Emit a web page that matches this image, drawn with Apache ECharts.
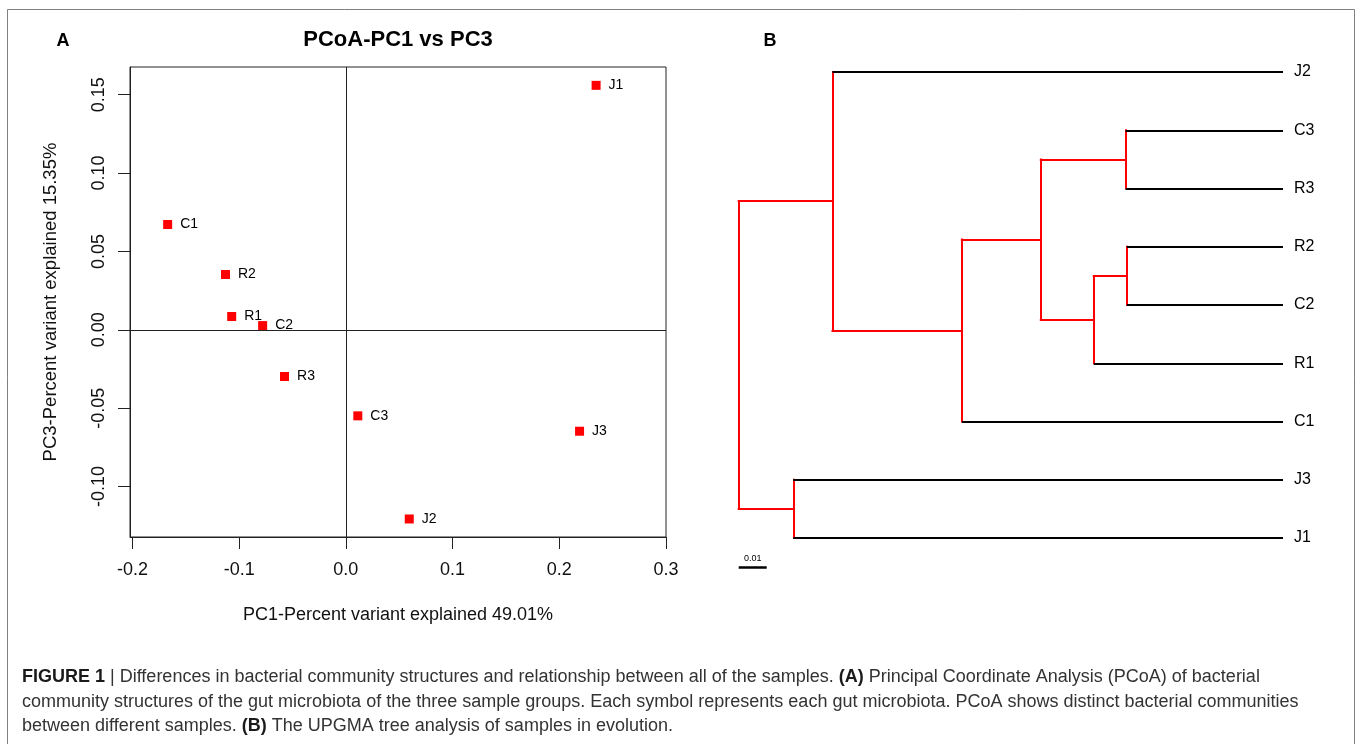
<!DOCTYPE html>
<html>
<head>
<meta charset="utf-8">
<script src="https://cdn.jsdelivr.net/npm/echarts@6.0.0/dist/echarts.min.js"></script>
<style>
  html, body { margin: 0; padding: 0; background: #fff; }
  #main { width: 1358px; height: 744px; }
</style>
</head>
<body>
<div id="main"></div>
<script>
// ---- panel A: PCoA scores ----
const sampleNames = ['J1', 'C1', 'R2', 'R1', 'C2', 'R3', 'C3', 'J3', 'J2'];
const pc1Values = [0.2345, -0.167, -0.1128, -0.107, -0.078, -0.0575, 0.0112, 0.219, 0.0594];
const pc3Values = [0.156, 0.0672, 0.0353, 0.0085, 0.0027, -0.0298, -0.0549, -0.0647, -0.1207];
const xTicks = [-0.2, -0.1, 0.0, 0.1, 0.2, 0.3];
const yTicks = [-0.10, -0.05, 0.00, 0.05, 0.10, 0.15];

// ---- panel B: UPGMA tree ----
const leafOrder = ['J2', 'C3', 'R3', 'R2', 'C2', 'R1', 'C1', 'J3', 'J1'];
const nodeNames = ['n1', 'n2', 'n3', 'n4', 'n5', 'n6', 'n7', 'n8'];
const nodeLeft = ['C3', 'R2', 'n2', 'n1', 'n4', 'J2', 'J3', 'n6'];
const nodeRight = ['R3', 'C2', 'R1', 'n3', 'C1', 'n5', 'J1', 'n7'];
const nodeHeight = [0.0562, 0.0558, 0.0676, 0.0865, 0.1147, 0.1609, 0.1749, 0.1944];
const scaleBar = 0.01;

const FONT = 'Liberation Sans, Arial, sans-serif';

// positions of leaves and merged nodes
const pos = {};
leafOrder.forEach((n, i) => { pos[n] = { h: 0, y: i }; });
const redSegs = [];
const blackSegs = [];
nodeNames.forEach((n, i) => {
  const l = pos[nodeLeft[i]], r = pos[nodeRight[i]];
  const h = nodeHeight[i];
  pos[n] = { h: h, y: (l.y + r.y) / 2 };
  redSegs.push({ coords: [[h, l.y], [h, r.y]] });
  [nodeLeft[i], nodeRight[i]].forEach(c => {
    const seg = { coords: [[h, pos[c].y], [pos[c].h, pos[c].y]] };
    if (leafOrder.indexOf(c) >= 0) blackSegs.push(seg); else redSegs.push(seg);
  });
});
const rootH = nodeHeight[nodeHeight.length - 1];

const chart = echarts.init(document.getElementById('main'), null, { renderer: 'canvas' });

const captionRich = { b: { fontWeight: 'bold', fontSize: 18, fill: '#1a1a1a', fontFamily: FONT } };

const option = {
  backgroundColor: '#fff',
  animation: false,
  textStyle: { fontFamily: FONT },
  grid: [
    { left: 130, right: 692, top: 67, bottom: 207, show: true, borderColor: '#222', borderWidth: 1 },
    { left: 738.7, right: 75, top: 72, bottom: 147.75 }
  ],
  xAxis: [
    {
      gridIndex: 0, type: 'value', min: -0.2023, max: 0.3,
      name: 'PC1-Percent variant explained 49.01%', nameLocation: 'middle', nameGap: 69,
      nameTextStyle: { fontSize: 18, color: '#111', fontFamily: FONT },
      axisLine: { show: true, onZero: false, lineStyle: { color: '#222' } },
      axisTick: { show: true, length: 12, lineStyle: { color: '#222' }, customValues: xTicks },
      axisLabel: { margin: 24, fontSize: 18, color: '#111', fontFamily: FONT, customValues: xTicks,
        formatter: v => v.toFixed(1) },
      splitLine: { show: false }
    },
    { gridIndex: 1, type: 'value', min: 0, max: rootH, inverse: true, show: false }
  ],
  yAxis: [
    {
      gridIndex: 0, type: 'value', min: -0.1322, max: 0.1677,
      name: 'PC3-Percent variant explained 15.35%', nameLocation: 'middle', nameGap: 70,
      nameTextStyle: { fontSize: 18.5, color: '#111', fontFamily: FONT },
      axisLine: { show: true, onZero: false, lineStyle: { color: '#222' } },
      axisTick: { show: true, length: 12, lineStyle: { color: '#222' }, customValues: yTicks },
      axisLabel: { rotate: 90, margin: 22, fontSize: 18, color: '#111', fontFamily: FONT, customValues: yTicks,
        formatter: v => v.toFixed(2) },
      splitLine: { show: false }
    },
    { gridIndex: 1, type: 'value', min: 0, max: 9, inverse: true, show: false }
  ],
  series: [
    {
      type: 'scatter', xAxisIndex: 0, yAxisIndex: 0,
      symbol: 'rect', symbolSize: 9,
      itemStyle: { color: '#ff0000', opacity: 1 },
      data: sampleNames.map((n, i) => ({ name: n, value: [pc1Values[i], pc3Values[i]] })),
      label: { show: true, position: 'right', distance: 8, formatter: '{b}', fontSize: 14, color: '#000', fontFamily: FONT },
      markLine: {
        silent: true, symbol: 'none', animation: false,
        label: { show: false },
        lineStyle: { color: '#222', width: 1, type: 'solid' },
        data: [{ xAxis: 0 }, { yAxis: 0 }]
      },
      z: 3
    },
    {
      type: 'lines', coordinateSystem: 'cartesian2d', xAxisIndex: 1, yAxisIndex: 1,
      silent: true, clip: false,
      lineStyle: { color: '#ff0000', width: 2, opacity: 1, cap: 'square' },
      data: redSegs
    },
    {
      type: 'lines', coordinateSystem: 'cartesian2d', xAxisIndex: 1, yAxisIndex: 1,
      silent: true, clip: false,
      lineStyle: { color: '#000', width: 2, opacity: 1 },
      data: blackSegs
    },
    {
      type: 'lines', coordinateSystem: 'cartesian2d', xAxisIndex: 1, yAxisIndex: 1,
      silent: true, clip: false,
      lineStyle: { color: '#000', width: 2.5, opacity: 1 },
      label: { show: true, position: 'insideMiddleTop', formatter: '0.01', fontSize: 9, color: '#000', distance: 4 },
      data: [{ coords: [[rootH, 8.5], [rootH - scaleBar, 8.5]] }]
    },
    {
      type: 'scatter', xAxisIndex: 1, yAxisIndex: 1,
      symbolSize: 0, silent: true,
      itemStyle: { opacity: 1 },
      data: leafOrder.map((n, i) => ({ name: n, value: [0, i] })),
      label: { show: true, position: 'right', distance: 11, formatter: '{b}', fontSize: 16, color: '#000', fontFamily: FONT }
    }
  ],
  graphic: [
    { type: 'rect', silent: true, shape: { x: 7.5, y: 9.5, width: 1347, height: 800 },
      style: { fill: 'none', stroke: '#808080', lineWidth: 1 } },
    { type: 'text', x: 63, y: 41, style: { text: 'A', fontSize: 18, fontWeight: 'bold', fill: '#000', fontFamily: FONT, align: 'center', verticalAlign: 'middle' } },
    { type: 'text', x: 770, y: 41, style: { text: 'B', fontSize: 18, fontWeight: 'bold', fill: '#000', fontFamily: FONT, align: 'center', verticalAlign: 'middle' } },
    { type: 'text', x: 398, y: 40, style: { text: 'PCoA-PC1 vs PC3', fontSize: 22, fontWeight: 'bold', fill: '#000', fontFamily: FONT, align: 'center', verticalAlign: 'middle' } },
    { type: 'text', x: 22, y: 677, style: {
      text: '{b|FIGURE 1} | Differences in bacterial community structures and relationship between all of the samples. {b|(A)} Principal Coordinate Analysis (PCoA) of bacterial',
      fontSize: 18, fill: '#333', fontFamily: FONT, verticalAlign: 'middle', rich: captionRich } },
    { type: 'text', x: 22, y: 702, style: {
      text: 'community structures of the gut microbiota of the three sample groups. Each symbol represents each gut microbiota. PCoA shows distinct bacterial communities',
      fontSize: 18, fill: '#333', fontFamily: FONT, verticalAlign: 'middle' } },
    { type: 'text', x: 22, y: 726, style: {
      text: 'between different samples. {b|(B)} The UPGMA tree analysis of samples in evolution.',
      fontSize: 18, fill: '#333', fontFamily: FONT, verticalAlign: 'middle', rich: captionRich } }
  ]
};

chart.setOption(option);
</script>
</body>
</html>
